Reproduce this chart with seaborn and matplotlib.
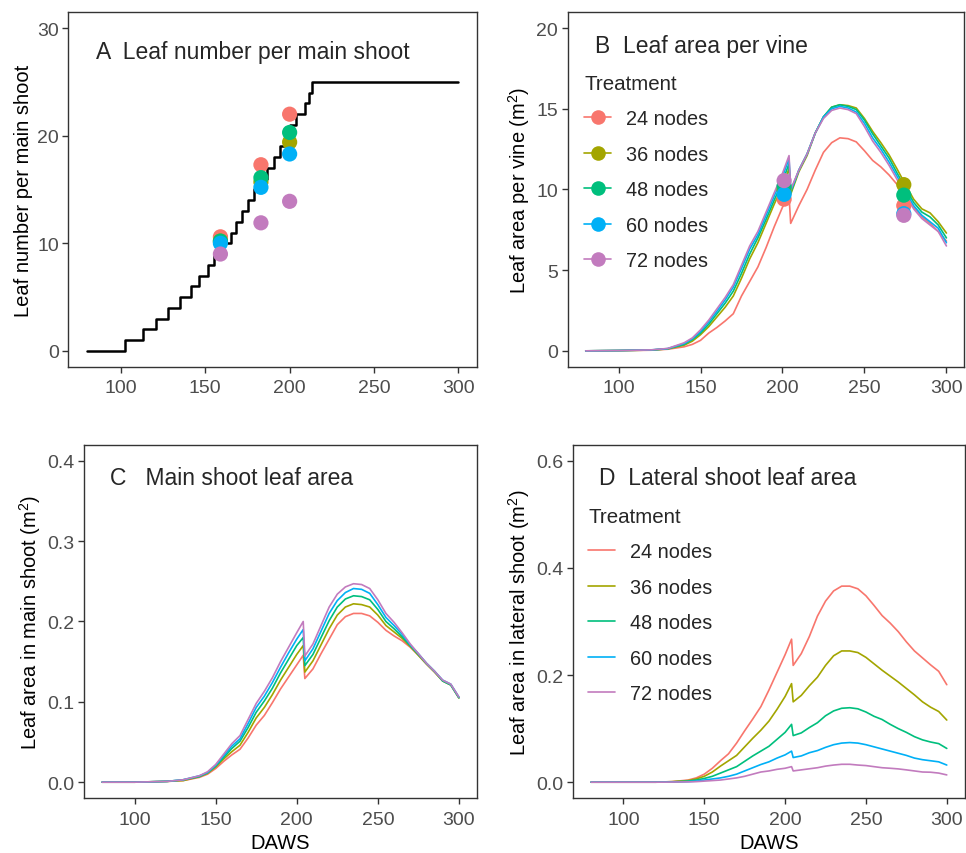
import numpy as np
import pandas as pd
import matplotlib
matplotlib.use("Agg")
import matplotlib.pyplot as plt
import seaborn as sns
from matplotlib.lines import Line2D

sns.set_style("ticks")
plt.rcParams['font.family'] = ['Liberation Sans', 'DejaVu Sans']
plt.rcParams['mathtext.fontset'] = 'custom'
plt.rcParams['mathtext.rm'] = 'Liberation Sans'
plt.rcParams['mathtext.it'] = 'Liberation Sans:italic'

# ---------------- data ----------------
treatments = ["24 nodes", "36 nodes", "48 nodes", "60 nodes", "72 nodes"]
colors = ["#F8766D", "#A3A500", "#00BF7D", "#00B0F6", "#C27BBE"]

daws = [80, 100, 120, 130, 140, 145, 150, 155, 160, 165, 170, 175, 180, 185, 190, 195, 200,
        204, 205, 210, 215, 220, 225, 230, 235, 240, 245, 250, 255, 260, 265, 270, 275, 280,
        285, 290, 295, 300]

# Panel A: simulated leaf number per main shoot (step line)
leaf_day = [80, 102.5, 113, 121, 128, 135, 141.5, 146.5, 151.5, 155, 158.5, 165.5, 168.5, 172,
            175.5, 179, 183.5, 186.5, 190.5, 194.5, 197.5, 200.5, 203.5, 209, 211.5, 213.5, 300]
leaf_num = [0, 1, 2, 3, 4, 5, 6, 7, 8, 9, 10, 11, 12, 13, 14, 15, 16, 17, 18, 19, 20, 21, 22,
            23, 24, 25, 25]

obs_a_day = [159, 183, 200]
obs_a_24 = [10.6, 17.3, 22.0]
obs_a_36 = [10.2, 15.7, 19.4]
obs_a_48 = [10.2, 16.1, 20.3]
obs_a_60 = [10.0, 15.2, 18.3]
obs_a_72 = [9.0, 11.9, 13.9]

# Panel B: leaf area per vine (m2)
vine_24 = [0, 0.01, 0.04, 0.10, 0.25, 0.40, 0.65, 1.10, 1.45, 1.85, 2.30, 3.40, 4.30, 5.20, 6.40,
           7.70, 8.90, 9.60, 7.90, 9.00, 10.00, 11.20, 12.30, 12.90, 13.20, 13.15, 12.95, 12.40,
           11.80, 11.40, 10.90, 10.30, 9.60, 8.90, 8.30, 7.90, 7.40, 6.80]
vine_36 = [0, 0.02, 0.05, 0.12, 0.35, 0.60, 1.00, 1.50, 2.10, 2.70, 3.40, 4.50, 5.70, 6.70, 7.90,
           9.10, 10.20, 11.30, 9.70, 11.10, 12.10, 13.50, 14.50, 15.10, 15.25, 15.20, 15.05, 14.40,
           13.60, 12.90, 12.15, 11.25, 10.30, 9.40, 8.80, 8.55, 8.00, 7.30]
vine_48 = [0, 0.02, 0.05, 0.13, 0.40, 0.70, 1.10, 1.65, 2.30, 2.95, 3.70, 4.80, 6.00, 7.00, 8.15,
           9.35, 10.50, 11.60, 9.80, 11.20, 12.20, 13.50, 14.50, 15.10, 15.25, 15.15, 14.95, 14.30,
           13.45, 12.70, 11.95, 11.00, 10.10, 9.20, 8.60, 8.30, 7.80, 7.00]
vine_60 = [0, 0.02, 0.06, 0.14, 0.45, 0.75, 1.20, 1.80, 2.45, 3.15, 3.95, 5.10, 6.30, 7.20, 8.40,
           9.60, 10.80, 11.90, 9.90, 11.20, 12.20, 13.50, 14.50, 15.00, 15.15, 15.05, 14.80, 14.10,
           13.20, 12.50, 11.70, 10.80, 9.90, 9.00, 8.40, 8.00, 7.60, 6.70]
vine_72 = [0, 0.02, 0.06, 0.15, 0.50, 0.80, 1.30, 1.90, 2.60, 3.30, 4.10, 5.30, 6.50, 7.40, 8.60,
           9.80, 11.00, 12.10, 10.00, 11.20, 12.20, 13.50, 14.40, 14.90, 15.05, 14.95, 14.70, 13.90,
           13.00, 12.30, 11.50, 10.60, 9.70, 8.80, 8.20, 7.80, 7.40, 6.50]

obs_b_day = [201, 274]
obs_b_24 = [9.4, 9.0]
obs_b_36 = [10.0, 10.3]
obs_b_48 = [10.2, 9.65]
obs_b_60 = [9.7, 8.5]
obs_b_72 = [10.55, 8.4]

# Panel C: main shoot leaf area (m2)
main_24 = [0, 0, 0.001, 0.002, 0.006, 0.010, 0.017, 0.026, 0.034, 0.041, 0.055, 0.071, 0.083, 0.099,
           0.116, 0.131, 0.146, 0.158, 0.129, 0.141, 0.160, 0.178, 0.196, 0.206, 0.210, 0.210, 0.207,
           0.199, 0.189, 0.182, 0.176, 0.168, 0.158, 0.147, 0.137, 0.126, 0.121, 0.105]
main_36 = [0, 0, 0.001, 0.002, 0.007, 0.011, 0.019, 0.029, 0.038, 0.046, 0.062, 0.080, 0.093, 0.109,
           0.127, 0.143, 0.159, 0.170, 0.137, 0.151, 0.171, 0.191, 0.208, 0.218, 0.222, 0.221, 0.218,
           0.208, 0.195, 0.187, 0.179, 0.169, 0.158, 0.147, 0.137, 0.126, 0.121, 0.105]
main_48 = [0, 0, 0.001, 0.003, 0.007, 0.012, 0.020, 0.031, 0.042, 0.051, 0.068, 0.087, 0.101, 0.117,
           0.136, 0.153, 0.170, 0.180, 0.145, 0.159, 0.180, 0.201, 0.218, 0.228, 0.232, 0.231, 0.227,
           0.215, 0.200, 0.191, 0.181, 0.170, 0.159, 0.148, 0.138, 0.126, 0.121, 0.105]
main_60 = [0, 0, 0.001, 0.003, 0.008, 0.012, 0.021, 0.033, 0.045, 0.054, 0.073, 0.093, 0.107, 0.124,
           0.143, 0.161, 0.178, 0.190, 0.151, 0.166, 0.188, 0.210, 0.226, 0.236, 0.241, 0.240, 0.235,
           0.221, 0.205, 0.195, 0.184, 0.171, 0.160, 0.148, 0.138, 0.127, 0.122, 0.106]
main_72 = [0, 0, 0.001, 0.003, 0.008, 0.013, 0.022, 0.035, 0.048, 0.058, 0.078, 0.098, 0.113, 0.130,
           0.150, 0.168, 0.186, 0.200, 0.157, 0.172, 0.195, 0.218, 0.234, 0.243, 0.247, 0.246, 0.241,
           0.227, 0.210, 0.199, 0.186, 0.172, 0.160, 0.148, 0.138, 0.127, 0.122, 0.106]

# Panel D: lateral shoot leaf area (m2)
lat_24 = [0, 0, 0, 0.001, 0.004, 0.008, 0.015, 0.026, 0.040, 0.053, 0.073, 0.096, 0.118, 0.141,
          0.172, 0.205, 0.238, 0.267, 0.218, 0.240, 0.272, 0.310, 0.338, 0.357, 0.366, 0.366, 0.361,
          0.348, 0.330, 0.311, 0.297, 0.281, 0.262, 0.245, 0.232, 0.219, 0.207, 0.182]
lat_36 = [0, 0, 0, 0.001, 0.003, 0.006, 0.011, 0.019, 0.030, 0.040, 0.050, 0.066, 0.082, 0.097,
          0.114, 0.136, 0.160, 0.184, 0.150, 0.162, 0.180, 0.196, 0.218, 0.236, 0.245, 0.245, 0.242,
          0.233, 0.221, 0.209, 0.198, 0.187, 0.175, 0.163, 0.150, 0.140, 0.132, 0.116]
lat_48 = [0, 0, 0, 0.0005, 0.002, 0.004, 0.007, 0.011, 0.017, 0.023, 0.029, 0.039, 0.049, 0.058,
          0.067, 0.080, 0.093, 0.108, 0.087, 0.092, 0.102, 0.111, 0.124, 0.133, 0.138, 0.139, 0.137,
          0.131, 0.123, 0.117, 0.108, 0.100, 0.093, 0.085, 0.079, 0.075, 0.072, 0.063]
lat_60 = [0, 0, 0, 0.0003, 0.001, 0.002, 0.004, 0.006, 0.008, 0.011, 0.015, 0.021, 0.027, 0.033,
          0.038, 0.045, 0.051, 0.058, 0.046, 0.049, 0.055, 0.059, 0.065, 0.070, 0.073, 0.074, 0.073,
          0.070, 0.066, 0.062, 0.058, 0.054, 0.050, 0.045, 0.042, 0.040, 0.038, 0.032]
lat_72 = [0, 0, 0, 0.0002, 0.0006, 0.001, 0.002, 0.003, 0.004, 0.006, 0.008, 0.011, 0.015, 0.019,
          0.021, 0.024, 0.026, 0.029, 0.021, 0.023, 0.025, 0.027, 0.030, 0.032, 0.0334, 0.0334, 0.032,
          0.031, 0.029, 0.027, 0.026, 0.0248, 0.023, 0.021, 0.019, 0.0186, 0.017, 0.0136]


def long_df(x, series):
    frames = []
    for name, vals in zip(treatments, series):
        frames.append(pd.DataFrame({"DAWS": x, "value": vals, "Treatment": name}))
    return pd.concat(frames, ignore_index=True)


df_vine = long_df(daws, [vine_24, vine_36, vine_48, vine_60, vine_72])
df_main = long_df(daws, [main_24, main_36, main_48, main_60, main_72])
df_lat = long_df(daws, [lat_24, lat_36, lat_48, lat_60, lat_72])
df_obs_a = long_df(obs_a_day, [obs_a_24, obs_a_36, obs_a_48, obs_a_60, obs_a_72])
df_obs_b = long_df(obs_b_day, [obs_b_24, obs_b_36, obs_b_48, obs_b_60, obs_b_72])
df_leaf = pd.DataFrame({"DAWS": leaf_day, "n": leaf_num})

pal = dict(zip(treatments, colors))

# ---------------- figure ----------------
fig = plt.figure(figsize=(9.66, 8.54), dpi=100)
axA = fig.add_axes([0.0709, 0.5691, 0.4229, 0.4157])
axB = fig.add_axes([0.5877, 0.5691, 0.4107, 0.4157])
axC = fig.add_axes([0.0873, 0.0641, 0.4062, 0.4140])
axD = fig.add_axes([0.5935, 0.0641, 0.4050, 0.4140])

LW = 1.2
PT = 120
TICK_FS = 14
LAB_FS = 14.5
TITLE_FS = 16.5
LEG_FS = 14.3
LEGT_FS = 14.8

# A
sns.lineplot(data=df_leaf, x="DAWS", y="n", ax=axA, color="black", lw=1.8,
             drawstyle="steps-post", estimator=None)
sns.scatterplot(data=df_obs_a, x="DAWS", y="value", hue="Treatment", hue_order=treatments,
                palette=pal, s=PT, linewidth=0, ax=axA, legend=False, zorder=3)
# B
sns.lineplot(data=df_vine, x="DAWS", y="value", hue="Treatment", hue_order=treatments,
             palette=pal, lw=LW, ax=axB, legend=False, estimator=None)
sns.scatterplot(data=df_obs_b, x="DAWS", y="value", hue="Treatment", hue_order=treatments,
                palette=pal, s=PT, linewidth=0, ax=axB, legend=False, zorder=3)
# C
sns.lineplot(data=df_main, x="DAWS", y="value", hue="Treatment", hue_order=treatments,
             palette=pal, lw=LW, ax=axC, legend=False, estimator=None)
# D
sns.lineplot(data=df_lat, x="DAWS", y="value", hue="Treatment", hue_order=treatments,
             palette=pal, lw=LW, ax=axD, legend=False, estimator=None)

# axes styling
settings = [
    (axA, (-1.5, 31.5), [0, 10, 20, 30], ["0", "10", "20", "30"], "Leaf number per main shoot", ""),
    (axB, (-1, 21), [0, 5, 10, 15, 20], ["0", "5", "10", "15", "20"], "Leaf area per vine (m$^2$)", ""),
    (axC, (-0.02, 0.42), [0, 0.1, 0.2, 0.3, 0.4], ["0.0", "0.1", "0.2", "0.3", "0.4"],
     "Leaf area in main shoot (m$^2$)", "DAWS"),
    (axD, (-0.03, 0.63), [0, 0.2, 0.4, 0.6], ["0.0", "0.2", "0.4", "0.6"],
     "Leaf area in lateral shoot (m$^2$)", "DAWS"),
]
for ax, ylim, yt, ytl, ylab, xlab in settings:
    ax.set_xlim(69, 311)
    ax.set_ylim(*ylim)
    ax.set_xticks([100, 150, 200, 250, 300])
    ax.set_xticklabels(["100", "150", "200", "250", "300"])
    ax.set_yticks(yt)
    ax.set_yticklabels(ytl)
    ax.set_ylabel(ylab, fontsize=LAB_FS, color="black", labelpad=3)
    ax.set_xlabel(xlab, fontsize=LAB_FS, color="black", labelpad=4)
    for sp in ax.spines.values():
        sp.set_visible(True)
        sp.set_color("#333333")
        sp.set_linewidth(1.0)
    ax.tick_params(direction="out", length=4, width=1, color="#333333",
                   labelcolor="#4D4D4D", labelsize=TICK_FS, pad=3)
    ax.tick_params(axis="x", pad=5)
    ax.grid(False)

# panel titles
axA.text(0.067, 0.889, "A  Leaf number per main shoot", transform=axA.transAxes,
         fontsize=TITLE_FS, ha="left", va="center")
axB.text(0.069, 0.905, "B  Leaf area per vine", transform=axB.transAxes,
         fontsize=TITLE_FS, ha="left", va="center")
axC.text(0.0655, 0.906, "C   Main shoot leaf area", transform=axC.transAxes,
         fontsize=TITLE_FS, ha="left", va="center")
axD.text(0.066, 0.906, "D  Lateral shoot leaf area", transform=axD.transAxes,
         fontsize=TITLE_FS, ha="left", va="center")

# legends
hb = [Line2D([], [], color=c, lw=LW, marker="o", markersize=10.5, markeredgewidth=0)
      for c in colors]
legB = axB.legend(hb, treatments, title="Treatment", loc="upper left",
                  bbox_to_anchor=(0.042, 0.8255), frameon=False, fontsize=LEG_FS,
                  title_fontsize=LEGT_FS, handlelength=1.36, handletextpad=0.75,
                  labelspacing=0.83, borderpad=0, borderaxespad=0)
legB._legend_box.align = "left"

hd = [Line2D([], [], color=c, lw=LW) for c in colors]
legD = axD.legend(hd, treatments, title="Treatment", loc="upper left",
                  bbox_to_anchor=(0.038, 0.824), frameon=False, fontsize=LEG_FS,
                  title_fontsize=LEGT_FS, handlelength=1.36, handletextpad=0.75,
                  labelspacing=0.83, borderpad=0, borderaxespad=0)
legD._legend_box.align = "left"

fig.savefig("out.png", dpi=100)
